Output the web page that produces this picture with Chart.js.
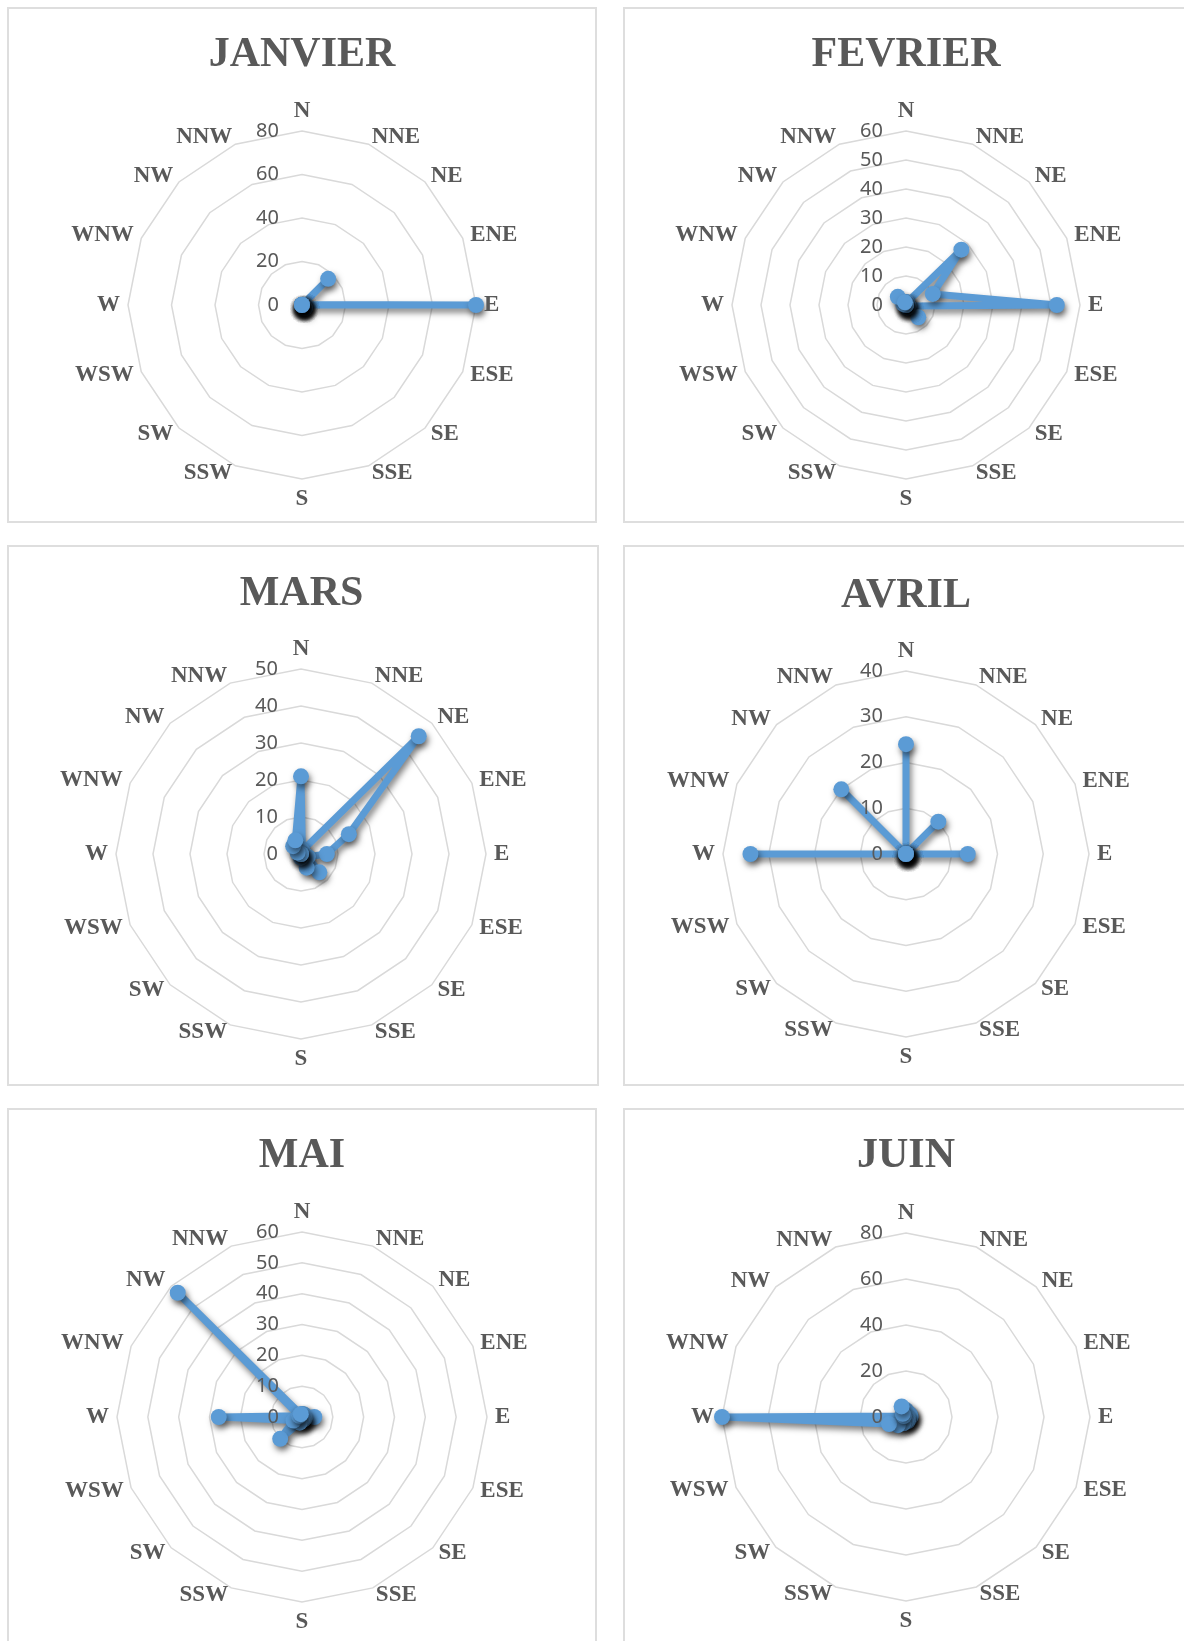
<!DOCTYPE html>
<html>
<head>
<meta charset="utf-8">
<script src="https://cdn.jsdelivr.net/npm/chart.js@4.4.1/dist/chart.umd.min.js"></script>
<style>
  body { margin: 0; background: #fff; width: 1184px; height: 1641px; overflow: hidden; position: relative; }
  .panel { position: absolute; border: 2px solid #dedede; background: #fff; }
  .panel canvas { position: absolute; left: 0; top: 0; }
</style>
</head>
<body>
<div class="panel" style="left:7px;top:7px;width:586px;height:512px"><canvas id="c0" width="586" height="512"></canvas></div>
<div class="panel" style="left:623px;top:7px;width:562px;height:512px"><canvas id="c1" width="562" height="512"></canvas></div>
<div class="panel" style="left:7px;top:545px;width:588px;height:537px"><canvas id="c2" width="588" height="537"></canvas></div>
<div class="panel" style="left:623px;top:545px;width:562px;height:537px"><canvas id="c3" width="562" height="537"></canvas></div>
<div class="panel" style="left:7px;top:1108px;width:586px;height:556px"><canvas id="c4" width="586" height="556"></canvas></div>
<div class="panel" style="left:623px;top:1108px;width:562px;height:556px"><canvas id="c5" width="562" height="556"></canvas></div>
<script>
// directions, clockwise from north
const directions = ['N', 'NNE', 'NE', 'ENE', 'E', 'ESE', 'SE', 'SSE', 'S', 'SSW', 'SW', 'WSW', 'W', 'WNW', 'NW', 'NNW'];

// values per month
const janvier = [0, 0, 17, 0.5, 80, 0, 2, 0, 0, 0, 0, 0, 0, 0, 0, 0];
const fevrier = [1, 1, 27, 10, 52, 1, 6, 1, 0, 0, 0, 0, 0, 1, 4, 1];
const mars    = [21, 1, 45, 14, 7, 2, 7, 4, 1, 0, 0, 0, 0, 1, 3, 4];
const avril   = [24, 0, 10, 0, 13.5, 0, 0, 0, 0, 0, 0, 0, 34, 0, 20, 0];
const mai     = [1, 1, 1, 1, 4, 1, 1, 1, 1, 2, 10, 3, 27, 1, 57, 1];
const juin    = [3, 2, 2, 2, 2, 1, 1, 2, 2, 3, 5, 8, 80, 1, 2, 5];

// ring labels
const ticksJanvier = [0, 20, 40, 60, 80];
const ticksFevrier = [0, 10, 20, 30, 40, 50, 60];
const ticksMars    = [0, 10, 20, 30, 40, 50];
const ticksAvril   = [0, 10, 20, 30, 40];
const ticksMai     = [0, 10, 20, 30, 40, 50, 60];
const ticksJuin    = [0, 20, 40, 60, 80];

const grey = '#595959';
const blue = '#5B9BD5';
const serif = '"Liberation Serif", "Times New Roman", serif';

// ring numbers sit just left of the north axis, on top of the line
const ringLabels = {
  id: 'ringLabels',
  afterDraw(chart) {
    const r = chart.scales.r;
    const ctx = chart.ctx;
    ctx.save();
    ctx.font = '20px "Noto Sans"';
    ctx.fillStyle = grey;
    ctx.textAlign = 'right';
    ctx.textBaseline = 'middle';
    r.ticks.forEach(t => {
      const d = r.getDistanceFromCenterForValue(t.value);
      ctx.fillText(t.label, r.xCenter - 23, r.yCenter - d);
    });
    ctx.restore();
  }
};

// compass labels, centred vertically on their spoke like Excel does
const compassLabels = {
  id: 'compassLabels',
  afterDraw(chart) {
    const r = chart.scales.r;
    const ctx = chart.ctx;
    ctx.save();
    ctx.font = 'bold 23px ' + serif;
    ctx.fillStyle = grey;
    ctx.textBaseline = 'middle';
    chart.data.labels.forEach((label, i) => {
      const vertical = i % 8 === 0;
      const p = r.getPointPosition(i, r.drawingArea + (vertical ? 20 : 8));
      const dx = p.x - r.xCenter;
      ctx.textAlign = Math.abs(dx) < 1 ? 'center' : (dx > 0 ? 'left' : 'right');
      ctx.fillText(label, p.x, p.y);
    });
    ctx.restore();
  }
};

// soft shadow under the series
const shadow = {
  id: 'shadow',
  beforeDatasetsDraw(chart) {
    const ctx = chart.ctx;
    ctx.save();
    ctx.shadowColor = 'rgba(0,0,0,0.5)';
    ctx.shadowBlur = 6;
    ctx.shadowOffsetX = 2;
    ctx.shadowOffsetY = 4;
  },
  afterDatasetsDraw(chart) {
    chart.ctx.restore();
  }
};

function drawRose(id, title, values, ticks, pad) {
  new Chart(document.getElementById(id), {
    type: 'radar',
    data: {
      labels: directions,
      datasets: [{
        data: values,
        borderColor: blue,
        backgroundColor: blue,
        borderWidth: 7,
        borderJoinStyle: 'round',
        borderCapStyle: 'round',
        fill: false,
        pointRadius: 8,
        pointBorderWidth: 0,
        pointBackgroundColor: blue
      }]
    },
    options: {
      responsive: false,
      animation: false,
      devicePixelRatio: 1,
      layout: { padding: { top: 0, left: 0, right: pad.right || 0, bottom: pad.bottom } },
      plugins: {
        legend: { display: false },
        tooltip: { enabled: false },
        title: {
          display: true,
          text: title,
          color: grey,
          font: { family: serif, size: 42, weight: 'bold' },
          padding: { top: pad.titleTop, bottom: pad.titleBottom }
        }
      },
      scales: {
        r: {
          min: ticks[0],
          max: ticks[ticks.length - 1],
          ticks: { stepSize: ticks[1] - ticks[0], display: false },
          grid: { color: '#d9d9d9', lineWidth: 1.5 },
          angleLines: { display: false },
          pointLabels: { display: false }
        }
      }
    },
    plugins: [shadow, ringLabels, compassLabels]
  });
}

drawRose('c0', 'JANVIER', janvier, ticksJanvier, { titleTop: 21.2, titleBottom: 51, bottom: 41.3 });
drawRose('c1', 'FEVRIER', fevrier, ticksFevrier, { titleTop: 21.2, titleBottom: 51, bottom: 41.3 });
drawRose('c2', 'MARS', mars, ticksMars, { titleTop: 21.9, titleBottom: 50.2, bottom: 44.4, right: 3 });
drawRose('c3', 'AVRIL', avril, ticksAvril, { titleTop: 24, titleBottom: 50.1, bottom: 46.4 });
drawRose('c4', 'MAI', mai, ticksMai, { titleTop: 21.1, titleBottom: 50.9, bottom: 63.5 });
drawRose('c5', 'JUIN', juin, ticksJuin, { titleTop: 21.1, titleBottom: 51.9, bottom: 64.5 });
</script>
</body>
</html>
